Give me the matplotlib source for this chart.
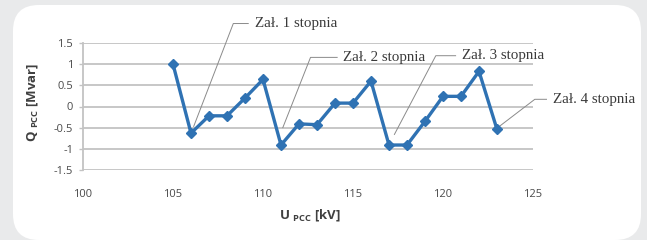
import matplotlib
matplotlib.use("Agg")
import matplotlib.pyplot as plt
from matplotlib.patches import FancyBboxPatch

# Data
u_pcc = [105, 106, 107, 108, 109, 110, 111, 112, 113, 114, 115, 116, 117, 118, 119, 120, 121, 122, 123]
q_pcc = [1.0, -0.63, -0.22, -0.22, 0.2, 0.64, -0.91, -0.41, -0.43, 0.08, 0.08, 0.6, -0.91, -0.91, -0.35, 0.24, 0.24, 0.83, -0.54]
x_ticks = [100, 105, 110, 115, 120, 125]
y_ticks = [-1.5, -1, -0.5, 0, 0.5, 1, 1.5]
y_tick_labels = ["-1.5", "-1", "-0.5", "0", "0.5", "1", "1.5"]
ann_labels = ["Zał. 1 stopnia", "Zał. 2 stopnia", "Zał. 3 stopnia", "Zał. 4 stopnia"]
# (tip, elbow, end of horizontal) in data coords
ann_tips = [(106.15, -0.47), (111.1, -0.5), (117.3, -0.66), (123.13, -0.47)]
ann_elbows = [(108.35, 1.96), (112.64, 1.16), (119.6, 1.2), (125.1, 0.17)]
ann_ends = [109.18, 114.12, 120.7, 125.75]

W, H = 647, 240
fig = plt.figure(figsize=(W / 100, H / 100), dpi=100)
fig.patch.set_facecolor("#e9eaeb")

panel = FancyBboxPatch((13 / W, 0.0 / H), (641 - 13) / W, (235 - 0) / H,
                       boxstyle="round,pad=0,rounding_size=0.04",
                       transform=fig.transFigure, facecolor="white",
                       edgecolor="none", zorder=-5, mutation_aspect=W / H)
fig.patches.append(panel)

ax = fig.add_axes([83 / W, 1 - 170 / H, (533 - 83) / W, (170 - 43) / H])
ax.set_zorder(2)
ax.set_facecolor("none")
ax.set_xlim(100, 125)
ax.set_ylim(-1.5, 1.5)

grid_c = "#c3c3c3"
for yv in y_ticks:
    ax.axhline(yv, color=grid_c, lw=1.3, zorder=1)
for s in ["top", "right", "bottom"]:
    ax.spines[s].set_visible(False)
ax.spines["left"].set_color(grid_c)
ax.spines["left"].set_linewidth(1.3)

tick_font = {"family": "Open Sans", "size": 8, "color": "#4a4a4a"}
ax.set_yticks(y_ticks)
ax.set_yticklabels(y_tick_labels, fontdict=tick_font)
ax.set_xticks(x_ticks)
ax.set_xticklabels([str(v) for v in x_ticks], fontdict=tick_font)
ax.tick_params(axis="y", length=3, width=1.0, color=grid_c, pad=4)
ax.tick_params(axis="x", length=0, pad=14)

ax.plot(u_pcc, q_pcc, color="#2f72b3", lw=2.4, marker="D", markersize=5.5,
        markeredgecolor="#2f72b3", zorder=3, solid_joinstyle="round")

lab_font = dict(family="Open Sans", size=9.5, color="#404040", weight="bold")
fig.text(310 / W, 1 - 215 / H, "U $_{\\mathregular{PCC}}$ [kV]", ha="center", va="center", **lab_font)
fig.text(33 / W, 1 - 102 / H, "Q $_{\\mathregular{PCC}}$ [Mvar]", ha="center", va="center",
         rotation=90, **lab_font)

for lab, tip, elb, end in zip(ann_labels, ann_tips, ann_elbows, ann_ends):
    ax.plot([tip[0], elb[0], end], [tip[1], elb[1], elb[1]], color="#8a8a8a",
            lw=0.7, clip_on=False, zorder=2)
    ax.text(end + 0.35, elb[1], lab, family="Liberation Serif", size=10.8,
            color="#3a3a3a", va="center", ha="left", clip_on=False)

fig.savefig("out.png", dpi=100, facecolor=fig.get_facecolor())
